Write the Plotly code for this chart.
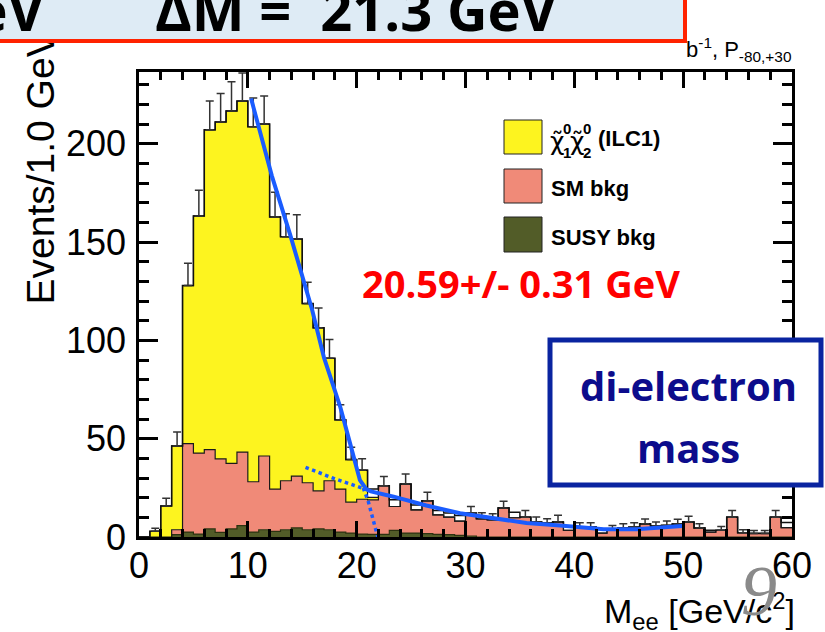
import numpy as np
import plotly.graph_objects as go

# ---- histogram content: 1 GeV bins from 0 to 60 GeV ----
bin_edges = list(range(0, 61))

susy_bkg = [0, 0, 0, 1.2, 2.5, 1.5, 4.1, 2.4, 4.1, 5.8,
            2.5, 3.7, 2.9, 3.7, 4.6, 3.7, 4.1, 3.7, 2.5, 2.0,
            1.5, 1.3, 1.3, 3.4, 2.0, 2.0, 1.7, 1.3, 1.2, 0.8,
            0.5, 0, 0, 0, 0, 0, 0, 0, 0, 0,
            0, 0, 0, 0, 0, 0, 0, 0, 0, 0,
            0, 0, 0, 0, 0, 0, 0, 0, 0, 0]

sm_bkg = [0, 0, 0, 2.5, 45.0, 41.2, 40.3, 37.3, 33.3, 37.4,
          25.6, 37.5, 21.5, 24.9, 26.4, 23.9, 19.4, 24.9, 21.9, 15.7,
          17.7, 17.6, 24.8, 12.1, 24.9, 11.8, 16.8, 10.0, 8.9, 7.3,
          11.6, 9.3, 8.8, 14.8, 9.8, 10.1, 7.6, 7.1, 7.6, 3.4,
          5.1, 5.1, 2.0, 3.6, 4.6, 5.0, 6.7, 5.6, 5.9, 6.6,
          7.6, 4.6, 2.5, 3.4, 10.1, 2.2, 1.8, 1.8, 10.1, 4.8]

signal = [0, 2.9, 15.8, 42.6, 80.4, 120.6, 162.7, 171.4, 179.3, 178.5,
          180.6, 168.8, 138.4, 124.1, 120.5, 91.1, 82.9, 62.3, 35.2, 21.7,
          14.8, 1.3, 0, 0, 0, 0, 0, 0, 0, 0,
          0, 0, 0, 0, 0, 0, 0, 0, 0, 0,
          0, 0, 0, 0, 0, 0, 0, 0, 0, 0,
          0, 0, 0, 0, 0, 0, 0, 0, 0, 0]

data = [0, 2.9, 15.8, 46.3, 127.9, 163.3, 207.1, 211.1, 216.7, 221.7,
        208.7, 210.0, 162.8, 152.7, 151.5, 118.7, 106.4, 90.9, 59.6, 39.4,
        34.0, 24.4, 26.1, 18.9, 26.9, 16.3, 18.5, 13.5, 12.2, 10.9,
        12.1, 9.3, 8.8, 14.8, 12.6, 10.1, 7.6, 7.1, 7.6, 5.6,
        5.1, 5.1, 4.0, 3.6, 4.6, 5.0, 6.7, 5.6, 5.9, 6.6,
        7.6, 4.6, 3.4, 3.4, 10.1, 2.2, 1.8, 1.8, 10.1, 7.4]

data_err = [0, 1.6, 3.9, 7.1, 11.3, 13.0, 14.6, 14.5, 14.8, 14.3,
            14.6, 14.3, 12.6, 11.7, 12.4, 10.9, 10.1, 9.6, 7.7, 6.3,
            5.8, 0, 4.7, 0, 5.1, 0, 4.2, 0, 0, 0,
            3.4, 3.0, 3.0, 3.4, 0, 3.4, 2.6, 2.2, 3.4, 0,
            2.2, 2.2, 0, 2.3, 2.2, 2.2, 2.5, 2.0, 2.2, 2.4,
            2.9, 2.2, 0, 2.0, 3.4, 1.5, 1.5, 1.5, 3.4, 0]

# ---- fit curves ----
fit_x = [10.3, 12.2, 13.9, 15.9, 17.0, 18.5, 19.4, 20.3, 20.9, 21.3,
         23.4, 26.4, 29.5, 32.6, 35.6, 38.7, 42.7, 45.7, 47.3, 49.9]
fit_y = [223.0, 183.8, 153.5, 115.7, 91.2, 66.0, 47.5, 28.9, 24.2, 23.2,
         20.5, 16.0, 12.1, 9.3, 7.1, 5.9, 4.0, 4.0, 4.7, 5.6]
bkg_ext_x = [15.3, 17.9, 20.7]
bkg_ext_y = [35.4, 29.8, 24.5]
edge_ext_x = [20.6, 21.07, 21.84, 21.95]
edge_ext_y = [25.0, 18.0, 2.0, 0.0]

C_SIG = "#fdf41f"
C_SM = "#f08a78"
C_SUSY = "#525c28"
C_FIT = "#1a5cff"

centers = [e + 0.5 for e in bin_edges[:-1]]
lvl1 = np.array(susy_bkg)
lvl2 = lvl1 + np.array(sm_bkg)
lvl3 = lvl2 + np.array(signal)


def step(vals):
    v = list(vals)
    return v + [v[-1]]


fig = go.Figure()
# stacked filled histograms
fig.add_trace(go.Scatter(x=bin_edges, y=step(lvl1), line_shape="hv", mode="lines",
                         line=dict(color="#2c3210", width=1.2), fill="tozeroy",
                         fillcolor=C_SUSY, showlegend=False, hoverinfo="skip"))
fig.add_trace(go.Scatter(x=bin_edges, y=step(lvl2), line_shape="hv", mode="lines",
                         line=dict(color="#1a1a1a", width=1.2), fill="tonexty",
                         fillcolor=C_SM, showlegend=False, hoverinfo="skip"))
fig.add_trace(go.Scatter(x=bin_edges, y=step(lvl3), line_shape="hv", mode="lines",
                         line=dict(color="#1a1a1a", width=1.2), fill="tonexty",
                         fillcolor=C_SIG, showlegend=False, hoverinfo="skip"))
# pseudo-data outline and upper error bars
fig.add_trace(go.Scatter(x=bin_edges, y=step(data), line_shape="hv", mode="lines",
                         line=dict(color="#111111", width=1.5), showlegend=False,
                         hoverinfo="skip"))
err_x = [c for c, e in zip(centers, data_err) if e > 0]
err_y = [d for d, e in zip(data, data_err) if e > 0]
err_v = [e for e in data_err if e > 0]
fig.add_trace(go.Scatter(x=err_x, y=err_y, mode="markers",
                         marker=dict(size=1, color="rgba(0,0,0,0)"),
                         error_y=dict(type="data", symmetric=False, array=err_v,
                                      arrayminus=[0] * len(err_v), color="#333333",
                                      thickness=1.5, width=4),
                         showlegend=False, hoverinfo="skip"))
# fit
fig.add_trace(go.Scatter(x=bkg_ext_x, y=bkg_ext_y, mode="lines",
                         line=dict(color=C_FIT, width=3.5, dash="dot"), showlegend=False))
fig.add_trace(go.Scatter(x=edge_ext_x, y=edge_ext_y, mode="lines",
                         line=dict(color=C_FIT, width=3.5, dash="dot"), showlegend=False))
fig.add_trace(go.Scatter(x=fit_x, y=fit_y, mode="lines",
                         line=dict(color=C_FIT, width=4), showlegend=False))

# ---- layout geometry (pixels) ----
W, H = 825, 632
L, R, T, B = 139, 792, 72, 537


def xp(p):
    return (p - L) / (R - L)


def yp(p):
    return (B - p) / (B - T)


SANS = "Liberation Sans, Arial, sans-serif"
tick_font = dict(family=SANS, size=36, color="black")

fig.update_layout(
    width=W, height=H,
    margin=dict(l=L, r=W - R, t=T, b=H - B),
    paper_bgcolor="white", plot_bgcolor="white",
    showlegend=False,
    xaxis=dict(range=[0, 60], tickvals=[0, 10, 20, 30, 40, 50, 60],
               ticks="inside", ticklen=16, tickwidth=3, tickcolor="black",
               minor=dict(dtick=2, ticks="inside", ticklen=8, tickwidth=3, tickcolor="black"),
               showline=True, linewidth=2.5, linecolor="black", mirror="allticks",
               showgrid=False, zeroline=False, tickfont=tick_font, ticklabelstandoff=-5),
    yaxis=dict(range=[0, 236.5], tickvals=[0, 50, 100, 150, 200],
               ticks="inside", ticklen=19, tickwidth=3, tickcolor="black",
               minor=dict(dtick=10, ticks="inside", ticklen=10, tickwidth=3, tickcolor="black"),
               showline=True, linewidth=2.5, linecolor="black", mirror="allticks",
               showgrid=False, zeroline=False, tickfont=tick_font, ticklabelstandoff=3),
)

shapes = []
ann = []

# axis titles (placed at the far ends of the axes)
ann.append(dict(text="Events/1.0 GeV", textangle=-90, xref="paper", yref="paper",
                x=xp(40), y=yp(30), xanchor="center", yanchor="top", showarrow=False,
                font=dict(family=SANS, size=39, color="black")))
ann.append(dict(text="M<sub>ee</sub> [GeV/c<sup>2</sup>]", xref="paper", yref="paper",
                x=xp(797), y=yp(585), xanchor="right", yanchor="top", showarrow=False,
                font=dict(family=SANS, size=34, color="black")))

# luminosity / polarisation note, partly under the title banner
ann.append(dict(text="b<sup>-1</sup>, P<sub>-80,+30</sub>", xref="paper", yref="paper",
                x=xp(793), y=yp(67), xanchor="right", yanchor="bottom", showarrow=False,
                font=dict(family=SANS, size=22, color="black")))
# title banner
ann.append(dict(text=" ", xref="paper", yref="paper", x=xp(687), y=yp(43),
                xanchor="right", yanchor="bottom", width=760, height=90,
                bgcolor="#deebf5", bordercolor="#ff2200", borderwidth=4, borderpad=0,
                showarrow=False))
banner_font = dict(family="Open Sans, Noto Sans, sans-serif", size=56, color="black", weight="bold")
ann.append(dict(text="GeV", xref="paper", yref="paper", x=xp(47), y=yp(49),
                xanchor="right", yanchor="bottom", showarrow=False, font=banner_font))
ann.append(dict(text="ΔM =  21.3 GeV", xref="paper", yref="paper", x=xp(153), y=yp(49),
                xanchor="left", yanchor="bottom", showarrow=False, font=banner_font))

# fit result
ann.append(dict(text="20.59+/- 0.31 GeV", xref="paper", yref="paper", x=xp(360), y=yp(283),
                xanchor="left", yanchor="middle", showarrow=False,
                font=dict(family="Open Sans, Noto Sans, sans-serif", size=38, color="#ff0000",
                          weight="bold")))

# legend
leg_font = dict(family=SANS, size=22, color="black", weight="bold")
for (y0, y1), col in zip([(120, 154), (169, 203), (217, 252)], [C_SIG, C_SM, C_SUSY]):
    shapes.append(dict(type="rect", xref="paper", yref="paper", x0=xp(504), x1=xp(542),
                       y0=yp(y1), y1=yp(y0), fillcolor=col, line=dict(color="#222", width=1),
                       layer="above"))
ann.append(dict(text="SM bkg", xref="paper", yref="paper", x=xp(549), y=yp(188),
                xanchor="left", yanchor="middle", showarrow=False, font=leg_font))
ann.append(dict(text="SUSY bkg", xref="paper", yref="paper", x=xp(549), y=yp(237),
                xanchor="left", yanchor="middle", showarrow=False, font=leg_font))
ann.append(dict(text="(ILC1)", xref="paper", yref="paper", x=xp(596), y=yp(138),
                xanchor="left", yanchor="middle", showarrow=False, font=leg_font))
small = dict(family=SANS, size=15, color="black", weight="bold")
chi = dict(family="DejaVu Sans, sans-serif", size=25, color="black")
for cx, sub in [(548, "1"), (568, "2")]:
    ann.append(dict(text="χ\u0303", xref="paper", yref="paper", x=xp(cx), y=yp(141),
                    xanchor="left", yanchor="middle", showarrow=False, font=chi))
    ann.append(dict(text="0", xref="paper", yref="paper", x=xp(cx + 13), y=yp(128),
                    xanchor="left", yanchor="middle", showarrow=False, font=small))
    ann.append(dict(text=sub, xref="paper", yref="paper", x=xp(cx + 13), y=yp(152),
                    xanchor="left", yanchor="middle", showarrow=False, font=small))

# di-electron mass label box
shapes.append(dict(type="rect", xref="paper", yref="paper", x0=xp(550), x1=xp(821),
                   y0=yp(485), y1=yp(340), fillcolor="white",
                   line=dict(color="#0a24a0", width=5), layer="above"))
box_font = dict(family="Open Sans, Noto Sans, sans-serif", size=40, color="#0c0c8c", weight="bold")
ann.append(dict(text="di-electron", xref="paper", yref="paper", x=xp(688), y=yp(385),
                xanchor="center", yanchor="middle", showarrow=False, font=box_font))
ann.append(dict(text="mass", xref="paper", yref="paper", x=xp(688), y=yp(447),
                xanchor="center", yanchor="middle", showarrow=False, font=box_font))

# page number
ann.append(dict(text="9", xref="paper", yref="paper", x=xp(759), y=yp(591),
                xanchor="center", yanchor="middle", showarrow=False,
                font=dict(family="Liberation Serif, DejaVu Serif", size=72, color="#8a8a8a",
                          style="italic")))

fig.update_layout(shapes=shapes, annotations=ann)
fig.write_html("out.html")
